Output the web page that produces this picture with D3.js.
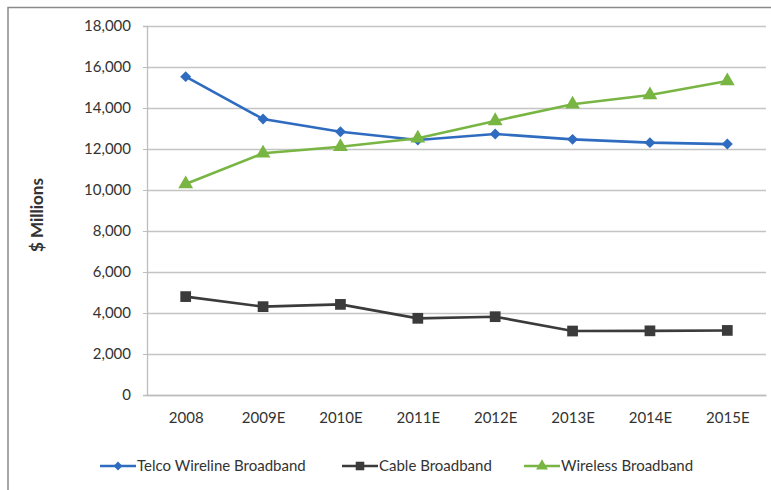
<!DOCTYPE html>
<html>
<head>
<meta charset="utf-8">
<script src="https://cdn.jsdelivr.net/npm/d3@7/dist/d3.min.js"></script>
<style>
  body { margin: 0; background: #fff; }
  svg text { font-family: Lato, "Open Sans", sans-serif; fill: #333; }
</style>
</head>
<body>
<svg id="chart" width="771" height="490"></svg>
<script>
const years = ['2008', '2009E', '2010E', '2011E', '2012E', '2013E', '2014E', '2015E']
const telco = [15530, 13460, 12840, 12440, 12730, 12470, 12310, 12240]
const cable = [4800, 4310, 4420, 3740, 3820, 3120, 3130, 3150]
const wireless = [10290, 11790, 12110, 12520, 13370, 14180, 14630, 15320]
const yTicks = [0, 2000, 4000, 6000, 8000, 10000, 12000, 14000, 16000, 18000]

const series = [
  { name: 'Telco Wireline Broadband', values: telco, color: '#2f6cc0', marker: 'diamond' },
  { name: 'Cable Broadband', values: cable, color: '#3b3b3b', marker: 'square' },
  { name: 'Wireless Broadband', values: wireless, color: '#78b543', marker: 'triangle' },
]

const svg = d3.select('#chart')
const margin = { top: 26, left: 147, right: 5, bottom: 95 }
const width = 771 - margin.left - margin.right
const height = 490 - margin.top - margin.bottom

// outer frame (right edge is cut off in the original)
svg.append('path')
  .attr('d', 'M8,492 L8,7.5 L775,7.5')
  .attr('fill', 'none')
  .attr('stroke', '#8a8a8a')
  .attr('stroke-width', 1.5)

const x = d3.scalePoint().domain(years).range([0, width]).padding(0.5)
const y = d3.scaleLinear().domain([0, 18000]).range([height, 0])

const g = svg.append('g').attr('transform', `translate(${margin.left},${margin.top})`)

// gridlines
g.append('g')
  .call(d3.axisLeft(y).tickValues(yTicks).tickSize(-width).tickFormat(''))
  .call((a) => a.select('.domain').remove())
  .selectAll('line')
  .attr('stroke', '#c4c4c4')
  .attr('stroke-width', 1.3)

// y axis
const yAxis = g.append('g')
  .call(d3.axisLeft(y).tickValues(yTicks).tickSize(4).tickPadding(12).tickFormat(d3.format(',')))
yAxis.select('.domain').attr('stroke', '#bdbdbd').attr('stroke-width', 1.3)
yAxis.selectAll('.tick line').attr('stroke', '#bdbdbd')
yAxis.selectAll('text').style('font-size', '15px').attr('fill', '#333')

// x axis
const xAxis = g.append('g')
  .attr('transform', `translate(0,${height})`)
  .call(d3.axisBottom(x).tickSize(0).tickPadding(17))
xAxis.select('.domain').attr('stroke', '#bdbdbd').attr('stroke-width', 1.3)
xAxis.selectAll('text').style('font-size', '15px').attr('fill', '#333')

// y title
svg.append('text')
  .attr('transform', 'translate(43,215) rotate(-90)')
  .attr('text-anchor', 'middle')
  .style('font-size', '17px')
  .style('font-weight', 'bold')
  .text('$ Millions')

const diamond = d3.symbol().type(d3.symbolSquare).size(60)
const symbols = {
  diamond: () => diamond(),
  square: d3.symbol().type(d3.symbolSquare).size(115),
  triangle: d3.symbol().type(d3.symbolTriangle).size(95),
}
const rot = { diamond: 45, square: 0, triangle: 0 }

const line = d3.line().x((d, i) => x(years[i])).y((d) => y(d))

series.forEach((s) => {
  g.append('path')
    .attr('d', line(s.values))
    .attr('fill', 'none')
    .attr('stroke', s.color)
    .attr('stroke-width', 2.6)

  g.selectAll(null)
    .data(s.values)
    .enter()
    .append('path')
    .attr('d', symbols[s.marker])
    .attr('transform', (d, i) => `translate(${x(years[i])},${y(d)}) rotate(${rot[s.marker]})`)
    .attr('fill', s.color)
})

// legend
const legendX = [100, 342, 524]
const legend = svg.append('g').attr('transform', 'translate(0,466)')
series.forEach((s, i) => {
  const lg = legend.append('g').attr('transform', `translate(${legendX[i]},0)`)
  lg.append('line')
    .attr('x1', 0).attr('x2', 36)
    .attr('stroke', s.color)
    .attr('stroke-width', 2.6)
  lg.append('path')
    .attr('d', symbols[s.marker])
    .attr('transform', `translate(18,0) rotate(${rot[s.marker]}) scale(0.8)`)
    .attr('fill', s.color)
  lg.append('text')
    .attr('x', 37)
    .attr('dy', '0.35em')
    .style('font-size', '15px')
    .text(s.name)
})
</script>
</body>
</html>
